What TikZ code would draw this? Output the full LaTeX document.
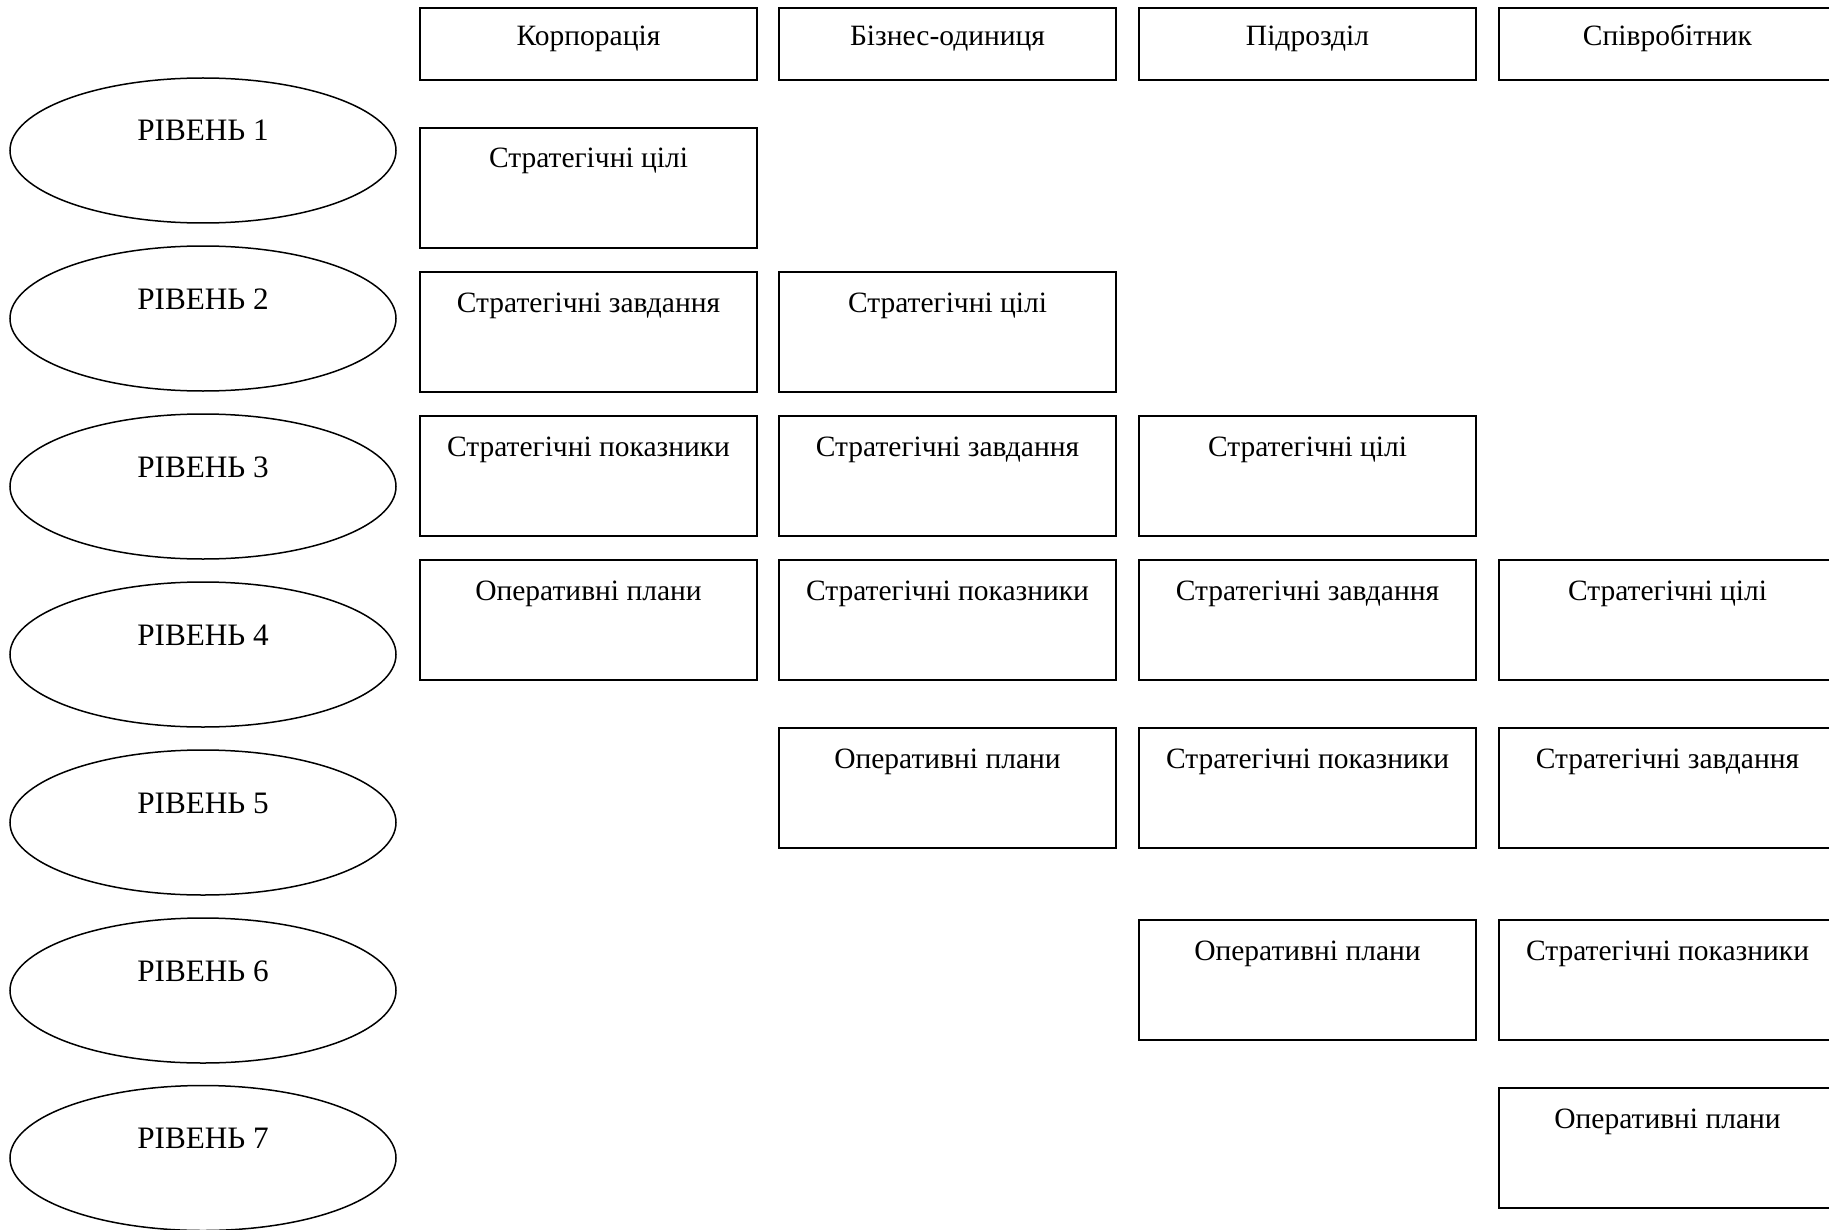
\documentclass[tikz,border=0pt]{standalone}
\usepackage{fontspec}
\setmainfont{Liberation Serif}
\usetikzlibrary{shapes.geometric}
\begin{document}
\begin{tikzpicture}[x=0.5pt,y=-0.5pt,
  hdr/.style={draw,line width=1pt,rectangle,anchor=north west,inner sep=0pt,
    minimum width=168.5pt,text height=19pt,text depth=17pt,font=\fontsize{14.75pt}{18pt}\selectfont},
  cell/.style={draw,line width=1pt,rectangle,anchor=north west,inner sep=0pt,
    minimum width=168.5pt,text height=20pt,text depth=40pt,font=\fontsize{14.75pt}{18pt}\selectfont},
  lvl/.style={draw,line width=0.75pt,ellipse,inner sep=0pt,minimum width=193pt,minimum height=72.5pt,
    text height=4pt,text depth=13.5pt,font=\fontsize{15.6pt}{18pt}\selectfont}]
\useasboundingbox (0,0) rectangle (1829,1230);
\clip (0,0) rectangle (1829,1230);
% headers
\node[hdr] (h1) at (419,7) {Корпорація};
\node[hdr] (h2) at (778,7) {Бізнес-одиниця};
\node[hdr] (h3) at (1138,7) {Підрозділ};
\node[hdr] (h4) at (1498,7) {Співробітник};
% levels
\node[lvl] (l1) at (203,150.5) {РІВЕНЬ 1};
\node[lvl] (l2) at (203,318.5) {РІВЕНЬ 2};
\node[lvl] (l3) at (203,486.5) {РІВЕНЬ 3};
\node[lvl] (l4) at (203,654.5) {РІВЕНЬ 4};
\node[lvl] (l5) at (203,822.5) {РІВЕНЬ 5};
\node[lvl] (l6) at (203,990.5) {РІВЕНЬ 6};
\node[lvl] (l7) at (203,1158) {РІВЕНЬ 7};
% column 1
\node[cell] (c11) at (419,127) {Стратегічні цілі};
\node[cell] (c12) at (419,271) {Стратегічні завдання};
\node[cell] (c13) at (419,415) {Стратегічні показники};
\node[cell] (c14) at (419,559) {Оперативні плани};
% column 2
\node[cell] (c22) at (778,271) {Стратегічні цілі};
\node[cell] (c23) at (778,415) {Стратегічні завдання};
\node[cell] (c24) at (778,559) {Стратегічні показники};
\node[cell] (c25) at (778,727) {Оперативні плани};
% column 3
\node[cell] (c33) at (1138,415) {Стратегічні цілі};
\node[cell] (c34) at (1138,559) {Стратегічні завдання};
\node[cell] (c35) at (1138,727) {Стратегічні показники};
\node[cell] (c36) at (1138,919) {Оперативні плани};
% column 4
\node[cell] (c44) at (1498,559) {Стратегічні цілі};
\node[cell] (c45) at (1498,727) {Стратегічні завдання};
\node[cell] (c46) at (1498,919) {Стратегічні показники};
\node[cell] (c47) at (1498,1087) {Оперативні плани};
\end{tikzpicture}
\end{document}
